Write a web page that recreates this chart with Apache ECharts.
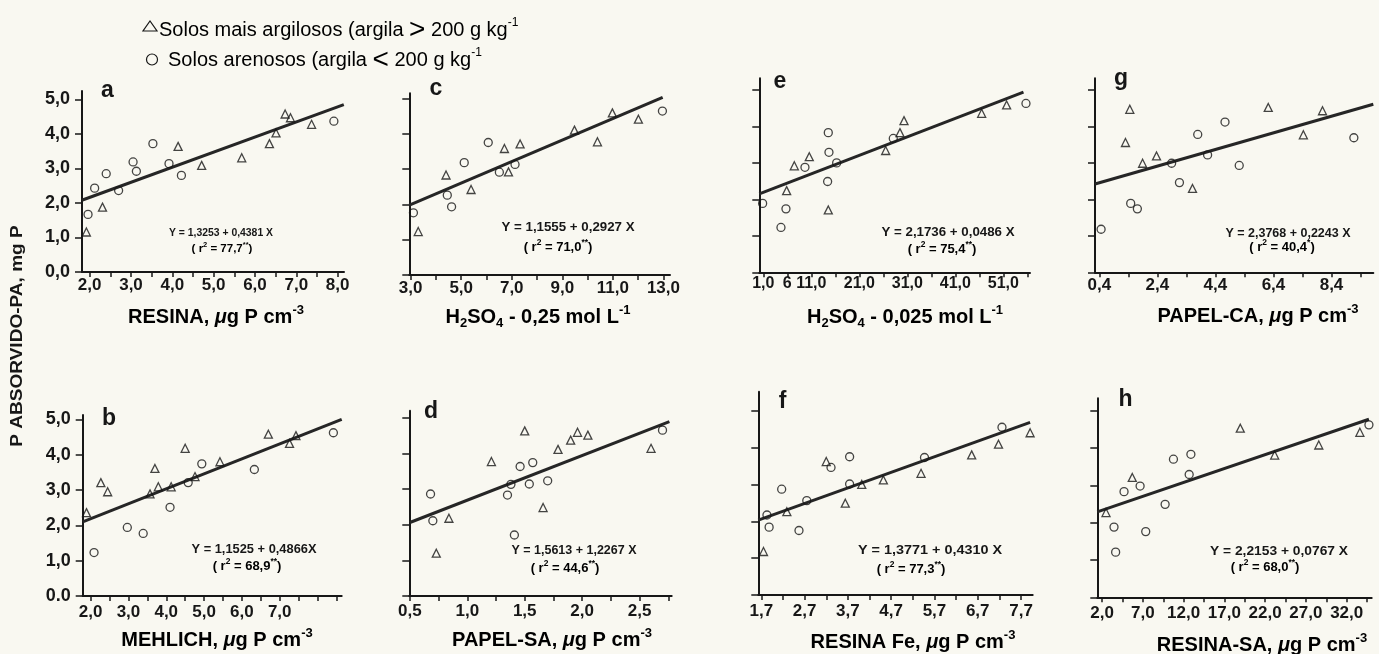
<!DOCTYPE html>
<html>
<head>
<meta charset="utf-8">
<title>P absorvido-PA</title>
<script src="https://cdn.jsdelivr.net/npm/echarts@6.0.0/dist/echarts.min.js"></script>
<style>
html,body{margin:0;padding:0;background:#f9f8f1;}
#chart{width:1379px;height:654px;}
</style>
</head>
<body>
<div id="chart"></div>
<script>
// ---------------- data ----------------
// triangles = solos mais argilosos, circles = solos arenosos, line = regression line ends
const aTri  = [[1.92,1.16],[2.31,1.88],[4.14,3.64],[4.71,3.09],[5.68,3.31],[6.35,3.72],[6.51,4.03],[6.73,4.58],[6.86,4.47],[7.37,4.28]];
const aCirc = [[1.96,1.67],[2.12,2.43],[2.40,2.85],[2.70,2.36],[3.05,3.19],[3.13,2.92],[3.53,3.72],[3.92,3.14],[4.22,2.80],[7.91,4.37]];
const aLine = [[1.81,2.08],[8.15,4.85]];

const cTri  = [[3.30,1.23],[4.40,2.83],[5.39,2.42],[6.71,3.58],[6.87,2.92],[7.33,3.71],[9.48,4.10],[10.39,3.77],[10.98,4.59],[12.01,4.41]];
const cCirc = [[3.11,1.76],[4.45,2.26],[4.62,1.93],[5.12,3.18],[6.07,3.75],[6.51,2.91],[7.13,3.13],[12.96,4.64]];
const cLine = [[2.95,1.98],[12.97,5.03]];

const eTri  = [[5.86,2.24],[7.46,2.92],[10.58,3.17],[14.54,1.71],[26.49,3.34],[29.47,3.83],[30.31,4.16],[46.49,4.36],[51.69,4.59]];
const eCirc = [[0.86,1.89],[4.68,1.23],[5.72,1.74],[9.68,2.88],[14.54,3.83],[14.68,3.29],[14.40,2.49],[16.28,3.00],[28.08,3.67],[55.72,4.63]];
const eLine = [[0.17,2.15],[55.2,4.94]];

const gTri  = [[1.30,3.56],[1.45,4.47],[1.89,2.99],[2.37,3.19],[3.61,2.30],[6.22,4.52],[7.43,3.77],[8.09,4.43]];
const gCirc = [[0.46,1.18],[1.48,1.89],[1.71,1.74],[2.89,2.99],[3.16,2.46],[3.79,3.78],[4.13,3.22],[4.73,4.12],[5.22,2.93],[9.17,3.69]];
const gLine = [[0.25,2.42],[9.84,4.61]];

const bTri  = [[1.89,2.36],[2.27,3.21],[2.45,2.95],[3.57,2.89],[3.70,3.61],[3.79,3.09],[4.13,3.09],[4.50,4.18],[4.76,3.38],[5.42,3.80],[6.70,4.58],[7.26,4.32],[7.43,4.54]];
const bCirc = [[2.09,1.23],[2.97,1.94],[3.39,1.77],[4.10,2.51],[4.58,3.21],[4.94,3.74],[6.33,3.58],[8.42,4.62]];
const bLine = [[1.79,2.10],[8.64,5.00]];

const dTri  = [[0.73,1.20],[0.84,2.18],[1.21,3.77],[1.50,4.63],[1.66,2.48],[1.79,4.11],[1.90,4.37],[1.96,4.59],[2.05,4.51],[2.60,4.14]];
const dCirc = [[0.68,2.86],[0.70,2.11],[1.35,2.83],[1.38,3.13],[1.41,1.71],[1.46,3.63],[1.54,3.14],[1.57,3.74],[1.70,3.23],[2.70,4.65]];
const dLine = [[0.50,2.06],[2.76,4.89]];

const fTri  = [[1.75,1.18],[2.29,2.26],[3.20,3.62],[3.64,2.49],[4.02,3.00],[4.52,3.12],[5.39,3.30],[6.56,3.80],[7.18,4.09],[7.91,4.40]];
const fCirc = [[1.83,2.17],[1.88,1.84],[2.17,2.87],[2.57,1.75],[2.75,2.56],[3.31,3.46],[3.74,3.75],[3.74,3.01],[5.47,3.73],[7.26,4.55]];
const fLine = [[1.63,2.03],[7.91,4.68]];

const hTri  = [[2.48,2.27],[5.70,3.21],[18.95,4.53],[23.17,3.81],[28.58,4.08],[33.62,4.42]];
const hCirc = [[3.46,1.88],[3.66,1.21],[4.69,2.83],[6.66,2.98],[7.35,1.76],[9.73,2.49],[10.75,3.70],[12.68,3.29],[12.89,3.83],[34.73,4.62]];
const hLine = [[1.41,2.29],[34.73,4.77]];

// ---------------- tick values and labels ----------------
const yTickVals = [0,1,2,3,4,5];
const yLabelsA  = ['0,0','1,0','2,0','3,0','4,0','5,0'];
const yLabelsB  = ['0.0','1,0','2,0','3,0','4,0','5,0'];

const aTicks = [2,2.5,3,3.5,4,4.5,5,5.5,6,6.5,7,7.5,8];
const aLabelVals = [2,3,4,5,6,7,8];
const aLabelText = ['2,0','3,0','4,0','5,0','6,0','7,0','8,0'];

const cTicks = [3,4,5,6,7,8,9,10,11,12,13];
const cLabelVals = [3,5,7,9,11,13];
const cLabelText = ['3,0','5,0','7,0','9,0','11,0','13,0'];

const eTicks = [1,6,11,16,21,26,31,36,41,46,51,56];
const eLabelVals = [1,6,11,21,31,41,51];
const eLabelText = ['1,0','6','11,0','21,0','31,0','41,0','51,0'];

const gTicks = [0.4,1.4,2.4,3.4,4.4,5.4,6.4,7.4,8.4,9.4];
const gLabelVals = [0.4,2.4,4.4,6.4,8.4];
const gLabelText = ['0,4','2,4','4,4','6,4','8,4'];

const bTicks = [2,2.5,3,3.5,4,4.5,5,5.5,6,6.5,7,7.5,8,8.5];
const bLabelVals = [2,3,4,5,6,7];
const bLabelText = ['2,0','3,0','4,0','5,0','6,0','7,0'];

const dTicks = [0.5,0.75,1,1.25,1.5,1.75,2,2.25,2.5,2.75];
const dLabelVals = [0.5,1,1.5,2,2.5];
const dLabelText = ['0,5','1,0','1,5','2,0','2,5'];

const fTicks = [1.7,2.2,2.7,3.2,3.7,4.2,4.7,5.2,5.7,6.2,6.7,7.2,7.7];
const fLabelVals = [1.7,2.7,3.7,4.7,5.7,6.7,7.7];
const fLabelText = ['1,7','2,7','3,7','4,7','5,7','6,7','7,7'];

const hTicks = [2,4.5,7,9.5,12,14.5,17,19.5,22,24.5,27,29.5,32,34.5];
const hLabelVals = [2,7,12,17,22,27,32];
const hLabelText = ['2,0','7,0','12,0','17,0','22,0','27,0','32,0'];

// ---------------- texts ----------------
const eqLines = ['Y = 1,3253 + 0,4381 X','Y = 1,1555 + 0,2927 X','Y = 2,1736 + 0,0486 X','Y = 2,3768 + 0,2243 X',
                 'Y = 1,1525 + 0,4866X','Y = 1,5613 + 1,2267 X','Y = 1,3771 + 0,4310 X','Y = 2,2153 + 0,0767 X'];
const r2Vals  = ['77,7','71,0','75,4','40,4','68,9','44,6','77,3','68,0'];
const r2Stars = ['**','**','**','*','**','**','**','**'];
const panelLetters = ['a','c','e','g','b','d','f','h'];
const xTitles = [
  '{t|RESINA, }{mu|μ}{t|g P cm}{sup|-3}',
  '{t|H}{sub|2}{t|SO}{sub|4}{t| - 0,25 mol L}{sup|-1}',
  '{t|H}{sub|2}{t|SO}{sub|4}{t| - 0,025 mol L}{sup|-1}',
  '{t|PAPEL-CA, }{mu|μ}{t|g P cm}{sup|-3}',
  '{t|MEHLICH, }{mu|μ}{t|g P cm}{sup|-3}',
  '{t|PAPEL-SA, }{mu|μ}{t|g P cm}{sup|-3}',
  '{t|RESINA Fe, }{mu|μ}{t|g P cm}{sup|-3}',
  '{t|RESINA-SA, }{mu|μ}{t|g P cm}{sup|-3}'
];
const yTitle = 'P ABSORVIDO-PA, mg P';
const legendTri  = 'Solos mais argilosos (argila ';
const legendCirc = 'Solos arenosos (argila ';

// ---------------- layout ----------------
const FONT = "'Liberation Sans', Arial, Helvetica, sans-serif";
const INK = '#171717';
const BG = '#f9f8f1';

const panels = [
  {tri:aTri, circ:aCirc, line:aLine, ticks:aTicks, lv:aLabelVals, lt:aLabelText, yl:yLabelsA, lf:17,
   box:[82,91,344,272], x:[1.814,8.155], ymax:5.246, lm:5,
   letter:[107.5,98.3], eq:[221,233,104,11.5], r2:[222,249,11.5], title:[216,317]},
  {tri:cTri, circ:cCirc, line:cLine, ticks:cTicks, lv:cLabelVals, lt:cLabelText, yl:null, lf:17,
   box:[409.3,93.3,670,275], x:[2.947,13.26], ymax:5.143, lm:5,
   letter:[436,96.7], eq:[568,228,133,12.5], r2:[558,247.5,13], title:[538,317]},
  {tri:eTri, circ:eCirc, line:eLine, ticks:eTicks, lv:eLabelVals, lt:eLabelText, yl:null, lf:16,
   box:[759.3,78.3,1030,272.3], x:[0.167,56.56], ymax:5.32, lm:3.5,
   letter:[780,90], eq:[948,233,133,12.5], r2:[942,249,13], title:[905,317]},
  {tri:gTri, circ:gCirc, line:gLine, ticks:gTicks, lv:gLabelVals, lt:gLabelText, yl:null, lf:17,
   box:[1095,78.3,1373.3,272.3], x:[0.25,9.84], ymax:5.32, lm:4.5,
   letter:[1121,86.7], eq:[1288,234,125,12.5], r2:[1282,247.5,13], title:[1258,316]},
  {tri:bTri, circ:bCirc, line:bLine, ticks:bTicks, lv:bLabelVals, lt:bLabelText, yl:yLabelsB, lf:17,
   box:[82.7,415,341.7,596], x:[1.79,8.64], ymax:5.123, lm:8,
   letter:[109,426.7], eq:[254,550,125,12.5], r2:[247,566,13], title:[217,640]},
  {tri:dTri, circ:dCirc, line:dLine, ticks:dTicks, lv:dLabelVals, lt:dLabelText, yl:null, lf:17,
   box:[409.3,410.7,671.7,596], x:[0.495,2.78], ymax:5.195, lm:7,
   letter:[431,420], eq:[574,551,125,12.5], r2:[565,568,13], title:[552,640]},
  {tri:fTri, circ:fCirc, line:fLine, ticks:fTicks, lv:fLabelVals, lt:fLabelText, yl:null, lf:17,
   box:[758.3,391.7,1032.7,595], x:[1.63,7.97], ymax:5.514, lm:7.5,
   letter:[782.5,410], eq:[930,551,144,12.5], r2:[911,569,13], title:[913,642]},
  {tri:hTri, circ:hCirc, line:hLine, ticks:hTicks, lv:hLabelVals, lt:hLabelText, yl:null, lf:17,
   box:[1097.3,398.3,1371.7,597.3], x:[1.41,35.07], ymax:5.331, lm:7.5,
   letter:[1125.5,408], eq:[1279,552,138,12.5], r2:[1265,567,13], title:[1262,645]}
];

const mctx = document.createElement('canvas').getContext('2d');
function textWidth(str, size, weight) {
  mctx.font = weight + ' ' + size + 'px ' + FONT;
  return mctx.measureText(str).width;
}
function lookup(vals, texts, v) {
  for (let k = 0; k < vals.length; k++) if (Math.abs(vals[k] - v) < 1e-6) return texts[k];
  return '';
}

const grids = [], xAxes = [], yAxes = [], series = [], graphics = [];

panels.forEach((p, i) => {
  grids.push({left:p.box[0], top:p.box[1], width:p.box[2]-p.box[0], height:p.box[3]-p.box[1],
              containLabel:false, outerBoundsMode:'none'});
  xAxes.push({
    gridIndex:i, type:'value', min:p.x[0], max:p.x[1],
    axisLine:{show:true, onZero:false, lineStyle:{color:INK, width:2}},
    axisTick:{show:true, customValues:p.ticks, length:5, inside:false, lineStyle:{color:INK, width:1.5}},
    axisLabel:{show:true, customValues:p.lv, margin:p.lm, hideOverlap:false,
               formatter:(v) => lookup(p.lv, p.lt, v),
               fontSize:p.lf, fontWeight:'bold', fontFamily:FONT, color:INK},
    splitLine:{show:false}, minorTick:{show:false}
  });
  yAxes.push({
    gridIndex:i, type:'value', min:0, max:p.ymax,
    axisLine:{show:true, onZero:false, lineStyle:{color:INK, width:2}},
    axisTick:{show:true, customValues:yTickVals, length:7, inside:false, lineStyle:{color:INK, width:1.5}},
    axisLabel:{show:!!p.yl, customValues:yTickVals, margin:12, hideOverlap:false,
               formatter:(v) => p.yl ? lookup(yTickVals, p.yl, v) : '',
               fontSize:18, fontWeight:'bold', fontFamily:FONT, color:INK},
    splitLine:{show:false}
  });
  series.push({type:'line', xAxisIndex:i, yAxisIndex:i, data:p.line, symbol:'none', showSymbol:false,
               lineStyle:{color:'#262626', width:3}, z:2, silent:true});
  series.push({type:'scatter', xAxisIndex:i, yAxisIndex:i, data:p.tri, symbol:'triangle', symbolSize:[8,8],
               itemStyle:{color:'rgba(0,0,0,0)', borderColor:INK, borderWidth:1.3}, z:3});
  series.push({type:'scatter', xAxisIndex:i, yAxisIndex:i, data:p.circ, symbol:'circle', symbolSize:8,
               itemStyle:{color:'rgba(0,0,0,0)', borderColor:INK, borderWidth:1.3}, z:3});

  // panel letter
  graphics.push({type:'text', x:p.letter[0], y:p.letter[1] - 0.3465*23,
    style:{text:panelLetters[i], fontSize:23, fontWeight:'bold', fontFamily:FONT, fill:INK, align:'center', verticalAlign:'middle'}});
  // equation line 1, width-fitted
  const eqSize = p.eq[3];
  const w = textWidth(eqLines[i], eqSize, 'bold');
  graphics.push({type:'text', x:p.eq[0], y:p.eq[1], scaleX:p.eq[2]/w,
    style:{text:eqLines[i], fontSize:eqSize, fontWeight:'bold', fontFamily:FONT, fill:INK, align:'center', verticalAlign:'middle'}});
  // r2 line
  const rs = p.r2[2];
  graphics.push({type:'text', x:p.r2[0], y:p.r2[1],
    style:{text:'{n|( r}{s|2}{n| = ' + r2Vals[i] + '}{s|' + r2Stars[i] + '}{n|)}', align:'center', verticalAlign:'middle',
      rich:{n:{fontSize:rs, fontWeight:'bold', fontFamily:FONT, color:INK, lineHeight:rs+4},
            s:{fontSize:rs*0.65, fontWeight:'bold', fontFamily:FONT, color:INK, lineHeight:rs*0.65, verticalAlign:'top'}}}});
  // axis title
  graphics.push({type:'text', x:p.title[0], y:p.title[1],
    style:{text:xTitles[i], align:'center', verticalAlign:'middle',
      rich:{t:{fontSize:20, fontWeight:'bold', fontFamily:FONT, color:INK, lineHeight:26},
            mu:{fontSize:20, fontWeight:'bold', fontStyle:'italic', fontFamily:FONT, color:INK, lineHeight:26},
            sup:{fontSize:13, fontWeight:'bold', fontFamily:FONT, color:INK, lineHeight:11, verticalAlign:'top'},
            sub:{fontSize:13, fontWeight:'bold', fontFamily:FONT, color:INK, lineHeight:11, verticalAlign:'bottom'}}}});
});

// y axis title
graphics.push({type:'text', x:17.5, y:336, rotation:Math.PI/2, scaleX:1.12,
  style:{text:yTitle, fontSize:17, fontWeight:'bold', fontFamily:FONT, fill:INK, align:'center', verticalAlign:'middle'}});

// legend
graphics.push({type:'polygon', shape:{points:[[143,31],[157,31],[150,21]]}, style:{fill:'none', stroke:INK, lineWidth:1.2}});
graphics.push({type:'circle', shape:{cx:152, cy:59.5, r:5.5}, style:{fill:'none', stroke:INK, lineWidth:1.2}});
const legendRich = {
  t:{fontSize:20, fontFamily:FONT, color:INK, lineHeight:26},
  g:{fontSize:28, fontFamily:FONT, color:INK, lineHeight:26},
  s:{fontSize:12, fontFamily:FONT, color:INK, lineHeight:10, verticalAlign:'top'}
};
graphics.push({type:'text', x:159, y:30,
  style:{text:'{t|' + legendTri + '}{g|>}{t| 200 g kg}{s|-1}', align:'left', verticalAlign:'middle', rich:legendRich}});
graphics.push({type:'text', x:168, y:60,
  style:{text:'{t|' + legendCirc + '}{g|<}{t| 200 g kg}{s|-1}', align:'left', verticalAlign:'middle', rich:legendRich}});

const chart = echarts.init(document.getElementById('chart'), null, {renderer:'canvas'});
chart.setOption({
  backgroundColor:BG,
  animation:false,
  grid:grids, xAxis:xAxes, yAxis:yAxes, series:series,
  graphic:{elements:graphics}
});
</script>
</body>
</html>
